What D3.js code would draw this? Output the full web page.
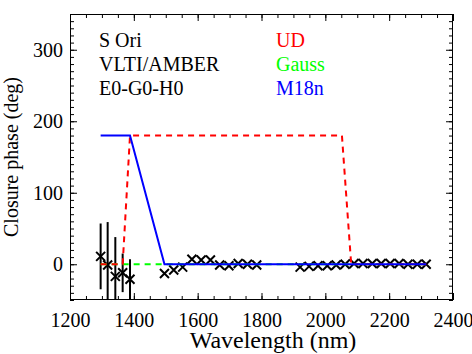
<!DOCTYPE html>
<html>
<head>
<meta charset="utf-8">
<script src="https://cdn.jsdelivr.net/npm/d3@7"></script>
<style>
  body { margin: 0; background: #fff; }
  text { font-family: "Liberation Serif", "Times New Roman", serif; }
</style>
</head>
<body>
<div id="container"></div>
<script>
// measured closure phases (deg) vs wavelength (nm)
var wave = [1296, 1318, 1342, 1365, 1388,
            1496, 1525, 1553, 1582, 1611, 1640, 1669, 1698, 1727, 1756, 1785,
            1921, 1949, 1977, 2006, 2034, 2062, 2090, 2118, 2147, 2175, 2203, 2231, 2259, 2288, 2316];
var phase = [11, -1, -17, -12, -21,
             -13, -8, -4, 7, 6, 6, -1, -2, 1, 0, -1,
             -4, -3, -2, -2, -1, 0, 1, 1, 1, 1, 1, 1, 0, 0, 0];
var phaseErr = [46, 60, 55, 27, 28,
                0, 0, 0, 0, 0, 0, 0, 0, 0, 0, 0,
                0, 0, 0, 0, 0, 0, 0, 0, 0, 0, 0, 0, 0, 0, 0];

// model curves
var udWave = [1296, 1365, 1388, 2052, 2081, 2316];
var udPhase = [0, 0, 180, 180, 0, 0];
var gaussWave = [1296, 2316];
var gaussPhase = [0, 0];
var m18Wave = [1296, 1388, 1496, 2316];
var m18Phase = [180, 180, 0, 0];

var xTicks = [1200, 1400, 1600, 1800, 2000, 2200, 2400];
var yTicks = [0, 100, 200, 300];
var labels = ["S Ori", "VLTI/AMBER", "E0-G0-H0"];
var models = ["UD", "Gauss", "M18n"];
var modelColors = ["#ff0000", "#00ff00", "#0000ff"];

var W = 472, H = 354;
var pLeft = 70, pRight = 453, pTop = 14, pBottom = 300;

var svg = d3.select("#container").append("svg")
            .attr("width", W).attr("height", H);

var x = d3.scaleLinear().domain([1200, 2400]).range([pLeft, pRight]);
var y = d3.scaleLinear().domain([-50, 350]).range([pBottom, pTop]);

svg.append("clipPath").attr("id", "clip")
   .append("rect").attr("x", pLeft).attr("y", pTop)
   .attr("width", pRight - pLeft).attr("height", pBottom - pTop);

// axes on all four sides, IDL style
function styleAxis(g) {
    g.select(".domain").remove();
    g.selectAll("line").attr("stroke", "#000").attr("stroke-width", 1);
    g.selectAll("text").attr("font-size", "20px").attr("fill", "#000")
     .attr("font-family", "Liberation Serif");
}
var xMinor = d3.range(1200, 2401, 50);
var yMinor = d3.range(-50, 351, 10);

svg.append("g").attr("transform", "translate(0," + pBottom + ")")
   .call(d3.axisTop(x).tickValues(xMinor).tickSize(4).tickFormat(""))
   .call(styleAxis);
svg.append("g").attr("transform", "translate(0," + pBottom + ")")
   .call(d3.axisTop(x).tickValues(xTicks).tickSize(7).tickFormat(""))
   .call(styleAxis);
svg.append("g").attr("transform", "translate(0," + pBottom + ")")
   .call(d3.axisBottom(x).tickValues(xTicks).tickSize(0).tickPadding(13).tickFormat(d3.format("d")))
   .call(styleAxis);
svg.append("g").attr("transform", "translate(0," + pTop + ")")
   .call(d3.axisBottom(x).tickValues(xMinor).tickSize(4).tickFormat(""))
   .call(styleAxis);
svg.append("g").attr("transform", "translate(0," + pTop + ")")
   .call(d3.axisBottom(x).tickValues(xTicks).tickSize(7).tickFormat(""))
   .call(styleAxis);

svg.append("g").attr("transform", "translate(" + pLeft + ",0)")
   .call(d3.axisRight(y).tickValues(yMinor).tickSize(4).tickFormat(""))
   .call(styleAxis);
svg.append("g").attr("transform", "translate(" + pLeft + ",0)")
   .call(d3.axisRight(y).tickValues(yTicks).tickSize(7).tickFormat(""))
   .call(styleAxis);
svg.append("g").attr("transform", "translate(" + pLeft + ",0)")
   .call(d3.axisLeft(y).tickValues(yTicks).tickSize(0).tickPadding(7).tickFormat(d3.format("d")))
   .call(styleAxis);
svg.append("g").attr("transform", "translate(" + pRight + ",0)")
   .call(d3.axisLeft(y).tickValues(yMinor).tickSize(4).tickFormat(""))
   .call(styleAxis);
svg.append("g").attr("transform", "translate(" + pRight + ",0)")
   .call(d3.axisLeft(y).tickValues(yTicks).tickSize(7).tickFormat(""))
   .call(styleAxis);

svg.append("rect").attr("x", pLeft + 0.5).attr("y", pTop + 0.5)
   .attr("width", pRight - pLeft - 1).attr("height", pBottom - pTop - 1)
   .attr("fill", "none").attr("stroke", "#000").attr("stroke-width", 1);

// data
var plot = svg.append("g").attr("clip-path", "url(#clip)");
var pts = wave.map(function(w, i){ return {w: w, p: phase[i], e: phaseErr[i]}; });

plot.append("g").selectAll("line")
    .data(pts.filter(function(d){ return d.e > 0; }))
    .enter().append("line")
    .attr("x1", function(d){ return x(d.w); })
    .attr("x2", function(d){ return x(d.w); })
    .attr("y1", function(d){ return y(d.p - d.e); })
    .attr("y2", function(d){ return y(d.p + d.e); })
    .attr("stroke", "#000").attr("stroke-width", 2);

var s = 4.5;
plot.append("g").selectAll("path")
    .data(pts)
    .enter().append("path")
    .attr("d", function(d){
        var cx = x(d.w), cy = y(d.p);
        return "M" + (cx - s) + "," + (cy - s) + "L" + (cx + s) + "," + (cy + s) +
               "M" + (cx - s) + "," + (cy + s) + "L" + (cx + s) + "," + (cy - s);
    })
    .attr("stroke", "#000").attr("stroke-width", 2).attr("fill", "none");

var line = d3.line().x(function(d){ return x(d[0]); }).y(function(d){ return y(d[1]); });

plot.append("path").datum(d3.zip(gaussWave, gaussPhase))
    .attr("d", line).attr("fill", "none")
    .attr("stroke", modelColors[1]).attr("stroke-width", 2).attr("stroke-dasharray", "6,5");
plot.append("path").datum(d3.zip(udWave, udPhase))
    .attr("d", line).attr("fill", "none")
    .attr("stroke", modelColors[0]).attr("stroke-width", 2).attr("stroke-dasharray", "6,5");
plot.append("path").datum(d3.zip(m18Wave, m18Phase))
    .attr("d", line).attr("fill", "none")
    .attr("stroke", modelColors[2]).attr("stroke-width", 2);

// annotations
svg.append("g").selectAll("text").data(labels).enter().append("text")
   .attr("x", 99).attr("y", function(d, i){ return 47 + i * 24; })
   .attr("font-size", "20px").attr("fill", "#000")
   .text(function(d){ return d; });

svg.append("g").selectAll("text").data(models).enter().append("text")
   .attr("x", 276).attr("y", function(d, i){ return 47 + i * 24; })
   .attr("font-size", "20px").attr("fill", function(d, i){ return modelColors[i]; })
   .text(function(d){ return d; });

svg.append("text").attr("x", 273).attr("y", 348)
   .attr("text-anchor", "middle").attr("font-size", "24px")
   .text("Wavelength (nm)");

svg.append("text").attr("transform", "translate(18,157) rotate(-90)")
   .attr("text-anchor", "middle").attr("font-size", "20px")
   .text("Closure phase (deg)");
</script>
</body>
</html>
